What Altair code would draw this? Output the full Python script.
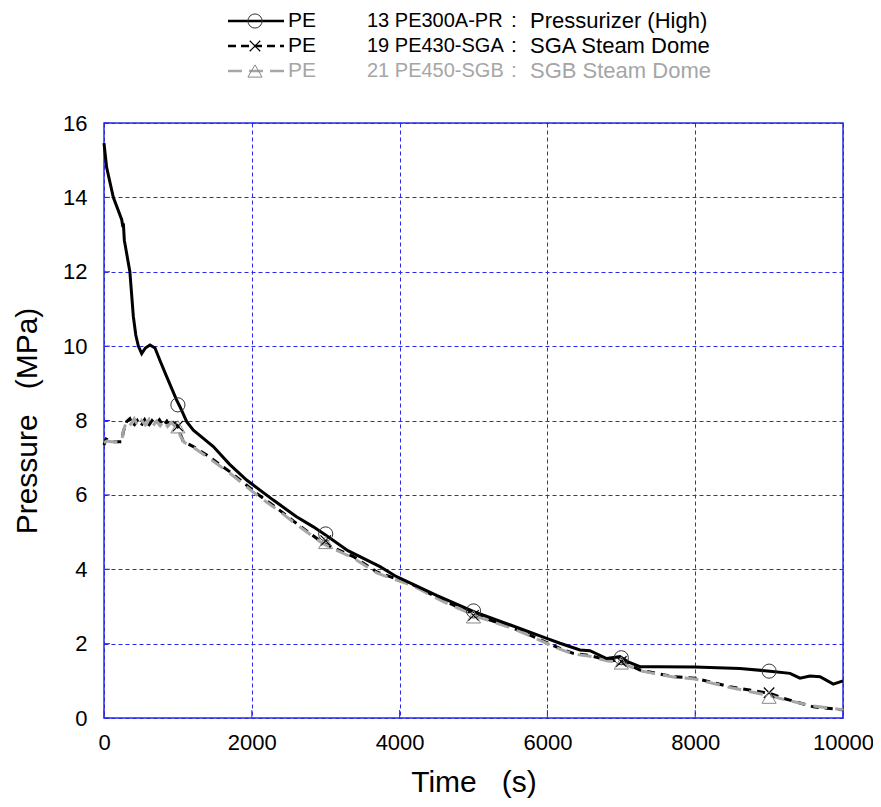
import altair as alt
import pandas as pd

# ---------------- data ----------------
prz_t = [0, 36, 126, 240, 255, 262, 275, 350, 397, 430, 465, 510, 560, 622, 690, 760, 848, 983,
         1028, 1119, 1209, 1344, 1479, 1700, 1930, 2291, 2600, 2833, 3013, 3300, 3735, 3960,
         4500, 5043, 5500, 5990, 6170, 6441, 6576, 6802, 6982, 7100, 7253, 7500, 7997, 8300,
         8606, 9012, 9283, 9418, 9553, 9689, 9869, 10000]
prz_p = [15.46, 14.8, 14.0, 13.4, 13.2, 13.3, 12.85, 12.0, 10.8, 10.3, 10.0, 9.8, 9.95, 10.03,
         9.95, 9.6, 9.18, 8.55, 8.37, 7.97, 7.74, 7.52, 7.3, 6.82, 6.4, 5.86, 5.42, 5.14, 4.9,
         4.5, 4.07, 3.8, 3.3, 2.83, 2.5, 2.14, 2.01, 1.83, 1.81, 1.6, 1.65, 1.5, 1.38, 1.38,
         1.37, 1.35, 1.33, 1.26, 1.2, 1.07, 1.13, 1.11, 0.91, 1.0]

sga_t = [0, 30, 104, 239, 261, 306, 350, 400, 450, 500, 550, 600, 650, 700, 750, 800, 850,
         900, 960, 1000, 1028, 1074, 1209, 1390, 1705, 2066, 2400, 2607, 2968, 3374, 3690,
         4186, 4600, 5088, 5500, 5810, 6170, 6350, 6576, 6802, 6982, 7253, 7704, 7997, 8471,
         9012, 9193, 9599, 10000]
sga_p = [7.34, 7.5, 7.43, 7.43, 7.7, 7.97, 8.05, 7.85, 8.0, 7.85, 8.02, 7.85, 8.0, 7.9, 8.02,
         7.85, 7.98, 7.82, 7.92, 7.85, 7.66, 7.43, 7.3, 7.07, 6.62, 6.04, 5.55, 5.23, 4.7,
         4.34, 3.93, 3.58, 3.15, 2.72, 2.45, 2.19, 1.87, 1.74, 1.68, 1.56, 1.54, 1.29, 1.11,
         1.07, 0.84, 0.66, 0.53, 0.3, 0.22]

sgb_t = [0, 40, 104, 239, 265, 310, 360, 410, 460, 510, 560, 610, 660, 710, 760, 810, 860,
         910, 960, 1000, 1030, 1080, 1209, 1390, 1705, 2066, 2400, 2607, 2968, 3374, 3690,
         4186, 4600, 5088, 5500, 5810, 6170, 6350, 6576, 6802, 6982, 7253, 7704, 7997, 8471,
         9012, 9193, 9599, 10000]
sgb_p = [7.4, 7.45, 7.43, 7.43, 7.75, 8.0, 7.9, 8.05, 7.85, 8.0, 7.88, 8.03, 7.85, 7.98, 7.86,
         8.0, 7.84, 7.95, 7.85, 7.83, 7.6, 7.42, 7.28, 7.03, 6.58, 6.0, 5.52, 5.2, 4.68, 4.3,
         3.9, 3.55, 3.12, 2.7, 2.43, 2.17, 1.85, 1.72, 1.66, 1.54, 1.5, 1.27, 1.1, 1.05, 0.82,
         0.6, 0.5, 0.32, 0.22]

marker_t = [1000, 3000, 5000, 7000, 9000]
prz_mk = [8.42, 4.95, 2.88, 1.62, 1.26]
sga_mk = [7.85, 4.77, 2.76, 1.52, 0.68]
sgb_mk = [7.83, 4.72, 2.72, 1.48, 0.56]

x_ticks = [0, 2000, 4000, 6000, 8000, 10000]
y_ticks = [0, 2, 4, 6, 8, 10, 12, 14, 16]

leg_pe = ["PE", "PE", "PE"]
leg_id = ["13 PE300A-PR", "19 PE430-SGA", "21 PE450-SGB"]
leg_desc = ["Pressurizer (High)", "SGA Steam Dome", "SGB Steam Dome"]

# ---------------- styling ----------------
FONT = "Liberation Sans, Arial, sans-serif"
W, H = 739, 595
GRID = "#2a2ae6"
GREY = "#a6a6a6"
XSHAPE = "M-1,-1L1,1M-1,1L1,-1"

xs = alt.Scale(domain=[0, 10000], nice=False)
ys = alt.Scale(domain=[0, 16], nice=False)

xax = alt.Axis(values=x_ticks, title="Time\u00a0\u00a0\u00a0(s)", format="d", ticks=False,
               grid=True, labelPadding=14, titlePadding=14, labelFlush=False)
yax = alt.Axis(values=y_ticks, title="Pressure\u00a0\u00a0\u00a0(MPa)", format="d", ticks=False,
               grid=True, labelPadding=17, titlePadding=20, labelFlush=False)


def line(t, p, **kw):
    df = pd.DataFrame({"t": t, "p": p})
    return alt.Chart(df).mark_line(**kw).encode(
        x=alt.X("t:Q", scale=xs, axis=xax),
        y=alt.Y("p:Q", scale=ys, axis=yax),
    )


def markers(t, p, **kw):
    df = pd.DataFrame({"t": t, "p": p})
    return alt.Chart(df).mark_point(**kw).encode(
        x=alt.X("t:Q", scale=xs), y=alt.Y("p:Q", scale=ys))


sga_line = line(sga_t, sga_p, color="black", strokeWidth=3, strokeDash=[8, 6])
sgb_line = line(sgb_t, sgb_p, color=GREY, strokeWidth=3, strokeDash=[14, 8])
prz_line = line(prz_t, prz_p, color="black", strokeWidth=3)

prz_m = markers(marker_t, prz_mk, shape="circle", size=200, filled=False,
                stroke="#333333", strokeWidth=1, opacity=1)
sga_m = markers(marker_t, sga_mk, shape=XSHAPE, size=110, filled=False,
                stroke="black", strokeWidth=1.2, opacity=1)
sgb_m = markers(marker_t, sgb_mk, shape="triangle-up", size=200, filled=False,
                stroke="#888888", strokeWidth=1, opacity=1)

# inward tick marks
xt = alt.Chart(pd.DataFrame({"t": x_ticks})).mark_rule(color=GRID, strokeWidth=1).encode(
    x=alt.X("t:Q", scale=xs), y=alt.value(H), y2=alt.value(H - 8))
yt = alt.Chart(pd.DataFrame({"p": y_ticks})).mark_rule(color=GRID, strokeWidth=1).encode(
    y=alt.Y("p:Q", scale=ys), x=alt.value(0), x2=alt.value(6))

# ---------------- legend (above plot) ----------------
rows_y = [-102, -77, -52]
one = pd.DataFrame({"a": [0]})
leg = []
styles = [
    dict(color="black", strokeWidth=2.5),
    dict(color="black", strokeWidth=2.5, strokeDash=[8, 5]),
    dict(color=GREY, strokeWidth=2.5, strokeDash=[14, 7]),
]
mk_styles = [
    dict(shape="circle", size=200, filled=False, stroke="#333333", strokeWidth=1, opacity=1),
    dict(shape=XSHAPE, size=110, filled=False, stroke="black", strokeWidth=1.2, opacity=1),
    dict(shape="triangle-up", size=200, filled=False, stroke="#888888", strokeWidth=1, opacity=1),
]
txt_colors = ["black", "black", GREY]
for i in range(3):
    yv = rows_y[i]
    leg.append(alt.Chart(one).mark_rule(**styles[i]).encode(
        x=alt.value(124), x2=alt.value(180), y=alt.value(yv)))
    leg.append(alt.Chart(one).mark_point(**mk_styles[i]).encode(
        x=alt.value(151), y=alt.value(yv)))
    df = pd.DataFrame({"pe": [leg_pe[i]], "id": [leg_id[i]], "d": [leg_desc[i]]})
    base = alt.Chart(df)
    leg.append(base.mark_text(align="left", baseline="middle", font=FONT, fontSize=21,
                              color=txt_colors[i]).encode(
        x=alt.value(184), y=alt.value(yv), text="pe:N"))
    leg.append(base.mark_text(align="left", baseline="middle", font=FONT, fontSize=20,
                              color=txt_colors[i]).encode(
        x=alt.value(263), y=alt.value(yv), text="id:N"))
    leg.append(base.mark_text(align="center", baseline="middle", font=FONT, fontSize=21,
                              color=txt_colors[i]).encode(
        x=alt.value(410), y=alt.value(yv), text=alt.value(":")))
    leg.append(base.mark_text(align="left", baseline="middle", font=FONT, fontSize=22,
                              color=txt_colors[i]).encode(
        x=alt.value(426), y=alt.value(yv), text="d:N"))

chart = alt.layer(
    sga_line, sgb_line, prz_line, prz_m, sga_m, sgb_m, xt, yt, *leg
).properties(
    width=W, height=H,
    autosize=alt.AutoSizeParams(type="none"),
    padding={"left": 96, "top": 115, "right": 30, "bottom": 81},
).configure_view(
    stroke=GRID, strokeWidth=1.5
).configure_axis(
    domain=False,
    gridColor=GRID, gridDash=[4, 3], gridWidth=1, gridOpacity=1,
    labelFont=FONT, labelFontSize=22, labelColor="black",
    titleFont=FONT, titleFontSize=30, titleFontWeight="normal", titleColor="black",
)

chart.save("out.html", embed_options={"renderer": "svg", "actions": False})
